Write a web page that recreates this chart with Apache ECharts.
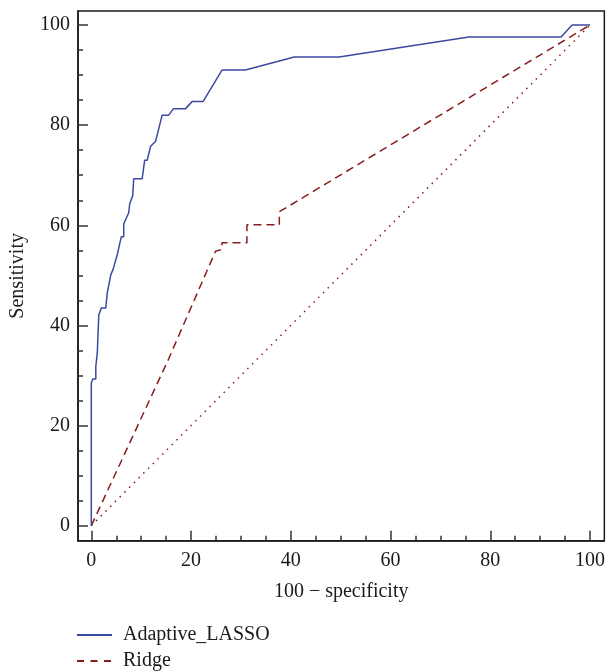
<!DOCTYPE html>
<html>
<head>
<meta charset="utf-8">
<title>ROC curves</title>
<script src="https://cdn.jsdelivr.net/npm/echarts@6/dist/echarts.min.js"></script>
<style>
  html, body { margin: 0; padding: 0; background: #fff; }
  #chart { width: 608px; height: 671px; }
</style>
</head>
<body>
<div id="chart"></div>
<script>
// 读图得到的数据
const lassoX = [0, 0, 0.3, 0.9, 0.9, 1.2, 1.5, 2.0, 2.9, 3.2, 3.9, 4.4, 5.2, 6.0, 6.5, 6.5, 7.5, 7.7, 8.3, 8.5, 10.2, 10.7, 11.2, 11.9, 12.9, 14.2, 15.5, 16.5, 18.9, 20.2, 22.4, 26.2, 30.9, 40.7, 49.7, 75.7, 94.2, 96.4, 100];
const lassoY = [0, 28.5, 29.3, 29.3, 31.8, 34.5, 42.1, 43.5, 43.5, 46.5, 50.1, 51.3, 54.1, 57.7, 57.7, 60.3, 62.5, 64.3, 65.9, 69.3, 69.3, 73.0, 73.0, 75.8, 76.8, 82.0, 82.0, 83.3, 83.3, 84.7, 84.7, 91.0, 91.0, 93.6, 93.6, 97.6, 97.6, 100, 100];
const ridgeX = [0, 15.5, 24.9, 26.2, 26.2, 31.2, 31.2, 37.7, 37.7, 100];
const ridgeY = [0, 33.3, 54.8, 55.2, 56.5, 56.5, 60.1, 60.1, 62.7, 100];
const refX = [0, 100];
const refY = [0, 100];
const majorTicks = [0, 20, 40, 60, 80, 100];
const minorTicks = [0, 5, 10, 15, 20, 25, 30, 35, 40, 45, 50, 55, 60, 65, 70, 75, 80, 85, 90, 95, 100];

const FONT = 'Liberation Serif';
const INK = '#1a1a1a';
const BLUE = '#3b4aa0';
const RED = '#8b1c1c';

const zip = (xs, ys) => xs.map((x, i) => [x, ys[i]]);

const chart = echarts.init(document.getElementById('chart'));

// 主刻度轴（带标签）和次刻度轴叠在同一个 grid 上
const mainAxis = (isX) => ({
  type: 'value',
  min: isX ? -2.67 : -3.0,
  max: isX ? 102.87 : 102.8,
  position: isX ? 'bottom' : 'left',
  name: isX ? '100 \u2212 specificity' : 'Sensitivity',
  nameLocation: 'middle',
  nameGap: isX ? 41 : 50,
  nameTextStyle: { fontFamily: FONT, fontSize: 20, color: INK },
  axisLine: { show: true, onZero: false, lineStyle: { color: INK, width: 1.5 } },
  axisTick: {
    show: true, inside: true, length: 10,
    customValues: majorTicks,
    lineStyle: { color: '#333', width: 1.5 }
  },
  axisLabel: {
    customValues: majorTicks,
    margin: isX ? 10 : 8,
    fontFamily: FONT, fontSize: 20, color: INK
  },
  splitLine: { show: false }
});

const minorAxis = (isX) => ({
  type: 'value',
  min: isX ? -2.67 : -3.0,
  max: isX ? 102.87 : 102.8,
  position: isX ? 'bottom' : 'left',
  axisLine: { show: false, onZero: false },
  axisTick: {
    show: true, inside: true, length: 5,
    customValues: minorTicks,
    lineStyle: { color: '#333', width: 1.5 }
  },
  axisLabel: { show: false },
  splitLine: { show: false }
});

// 图例一行一个
const legendItem = (name, top, lineStyle) => ({
  data: [name],
  left: 76,
  top: top,
  padding: 0,
  itemWidth: 35,
  itemHeight: 18,
  itemStyle: { opacity: 0 },
  lineStyle: lineStyle,
  textStyle: { fontFamily: FONT, fontSize: 20, color: INK, padding: [0, 0, 0, 6] }
});

chart.setOption({
  animation: false,
  backgroundColor: '#fff',
  grid: {
    left: 77.3,
    top: 11,
    right: 1.3,
    bottom: 130.3,
    show: true,
    borderColor: INK,
    borderWidth: 1.5
  },
  legend: [
    legendItem('Adaptive_LASSO', 625, {}),
    legendItem('Ridge', 651, { type: [7, 6.5] })
  ],
  xAxis: [mainAxis(true), minorAxis(true)],
  yAxis: [mainAxis(false), minorAxis(false)],
  series: [
    {
      name: 'Adaptive_LASSO',
      type: 'line',
      data: zip(lassoX, lassoY),
      symbol: 'none',
      lineStyle: { color: BLUE, width: 1.5 },
      itemStyle: { color: BLUE },
      z: 3
    },
    {
      name: 'Ridge',
      type: 'line',
      data: zip(ridgeX, ridgeY),
      symbol: 'none',
      lineStyle: { color: RED, width: 1.5, type: [8, 5] },
      itemStyle: { color: RED },
      z: 2
    },
    {
      name: 'reference',
      type: 'line',
      data: zip(refX, refY),
      symbol: 'none',
      lineStyle: { color: RED, width: 1.5, type: [1.5, 5.2] },
      itemStyle: { color: RED },
      z: 1
    }
  ]
});
</script>
</body>
</html>
